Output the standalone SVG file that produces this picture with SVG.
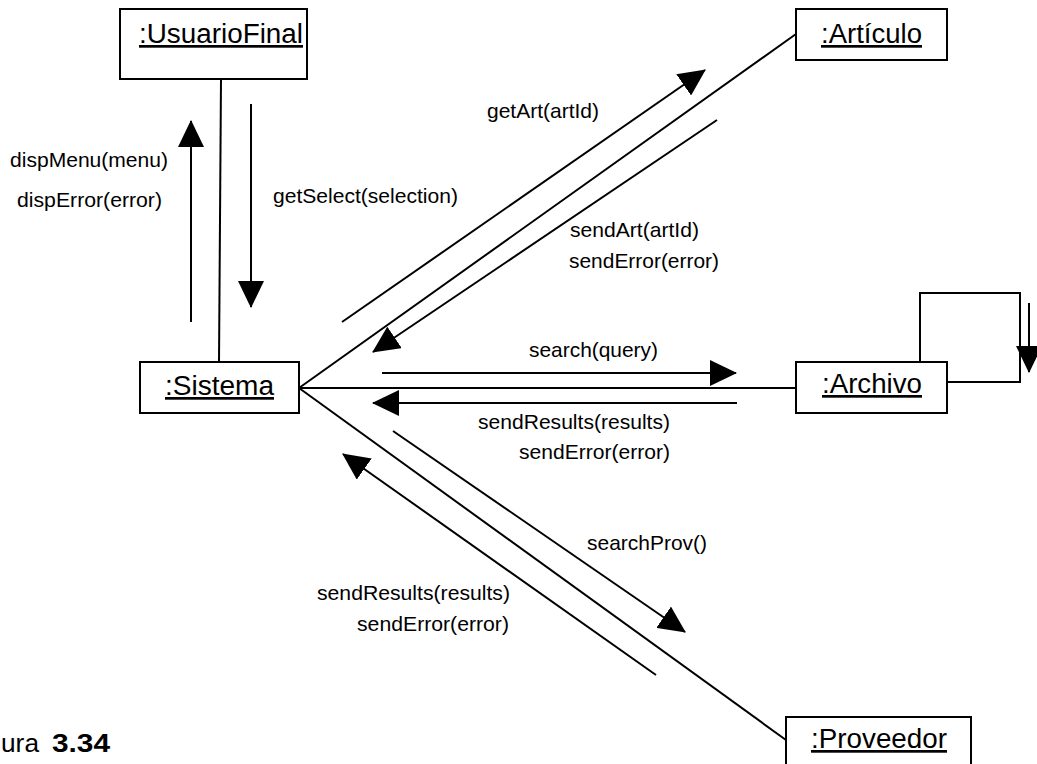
<svg xmlns="http://www.w3.org/2000/svg" width="1037" height="764" viewBox="0 0 1037 764">
  <style>
    .box { fill: #fff; stroke: #000; stroke-width: 2; }
    .name { font-family: "Liberation Sans", Arial, sans-serif; font-size: 27px; fill: #000; text-decoration: underline; }
    .assoc { stroke: #000; stroke-width: 2; fill: none; }
    .msg { stroke: #000; stroke-width: 2; fill: none; marker-end: url(#head); }
    .lbl { font-family: "Liberation Sans", Arial, sans-serif; font-size: 21px; fill: #000; }
    .cap { font-family: "Liberation Sans", Arial, sans-serif; font-size: 26px; fill: #000; }
  </style>
  <defs>
    <marker id="head" markerUnits="userSpaceOnUse" markerWidth="27" markerHeight="26" refX="26" refY="13" orient="auto">
      <path d="M0,0 L27,13 L0,26 Z" fill="#000"/>
    </marker>
  </defs>
  <rect width="1037" height="764" fill="#fff"/>

  <!-- links between objects and the messages along them -->
  <g id="connectors">
    <line class="assoc" x1="221" y1="79" x2="219" y2="362"/>
    <line class="assoc" x1="299" y1="388" x2="796" y2="34"/>
    <line class="assoc" x1="299" y1="388" x2="796" y2="388"/>
    <line class="assoc" x1="299" y1="388" x2="786" y2="740"/>
    <polyline class="assoc" points="920,362 920,293 1020,293 1020,382 948,382"/>

    <line class="msg" x1="191" y1="322" x2="191" y2="121"/>
    <line class="msg" x1="251" y1="104" x2="251" y2="307"/>
    <line class="msg" x1="342" y1="322" x2="705" y2="70"/>
    <line class="msg" x1="717" y1="120" x2="373" y2="352"/>
    <line class="msg" x1="382" y1="373" x2="736" y2="373"/>
    <line class="msg" x1="737" y1="403" x2="373" y2="403"/>
    <line class="msg" x1="393" y1="431" x2="685" y2="632"/>
    <line class="msg" x1="656" y1="675" x2="343" y2="454"/>
    <line class="msg" x1="1029" y1="303" x2="1029" y2="372"/>

    <text class="lbl" x="10" y="167" textLength="158" lengthAdjust="spacingAndGlyphs">dispMenu(menu)</text>
    <text class="lbl" x="17" y="207" textLength="145" lengthAdjust="spacingAndGlyphs">dispError(error)</text>
    <text class="lbl" x="273" y="203" textLength="185" lengthAdjust="spacingAndGlyphs">getSelect(selection)</text>
    <text class="lbl" x="487" y="118" textLength="112" lengthAdjust="spacingAndGlyphs">getArt(artId)</text>
    <text class="lbl" x="570" y="237" textLength="129" lengthAdjust="spacingAndGlyphs">sendArt(artId)</text>
    <text class="lbl" x="569" y="268" textLength="150" lengthAdjust="spacingAndGlyphs">sendError(error)</text>
    <text class="lbl" x="529" y="357" textLength="129" lengthAdjust="spacingAndGlyphs">search(query)</text>
    <text class="lbl" x="478" y="429" textLength="192" lengthAdjust="spacingAndGlyphs">sendResults(results)</text>
    <text class="lbl" x="519" y="459" textLength="151" lengthAdjust="spacingAndGlyphs">sendError(error)</text>
    <text class="lbl" x="587" y="550" textLength="120" lengthAdjust="spacingAndGlyphs">searchProv()</text>
    <text class="lbl" x="317" y="600" textLength="193" lengthAdjust="spacingAndGlyphs">sendResults(results)</text>
    <text class="lbl" x="357" y="631" textLength="152" lengthAdjust="spacingAndGlyphs">sendError(error)</text>
  </g>

  <g id="usuario-final">
    <rect class="box" x="120" y="9" width="187" height="70"/>
    <text class="name" x="139" y="43" textLength="164" lengthAdjust="spacingAndGlyphs">:UsuarioFinal</text>
  </g>
  <g id="articulo">
    <rect class="box" x="796" y="9" width="151" height="51"/>
    <text class="name" x="821" y="43" textLength="101" lengthAdjust="spacingAndGlyphs">:Artículo</text>
  </g>
  <g id="sistema">
    <rect class="box" x="140" y="362" width="159" height="51"/>
    <text class="name" x="165" y="395" textLength="109" lengthAdjust="spacingAndGlyphs">:Sistema</text>
  </g>
  <g id="archivo">
    <rect class="box" x="796" y="362" width="151" height="51"/>
    <text class="name" x="822" y="393" textLength="100" lengthAdjust="spacingAndGlyphs">:Archivo</text>
  </g>
  <g id="proveedor">
    <rect class="box" x="786" y="717" width="185" height="60"/>
    <text class="name" x="811" y="748" textLength="136" lengthAdjust="spacingAndGlyphs">:Proveedor</text>
  </g>

  <g id="caption">
    <text class="cap" x="1" y="752" textLength="38" lengthAdjust="spacingAndGlyphs">ura</text>
    <text class="cap" x="52" y="752" font-weight="bold" textLength="58" lengthAdjust="spacingAndGlyphs">3.34</text>
  </g>
</svg>
